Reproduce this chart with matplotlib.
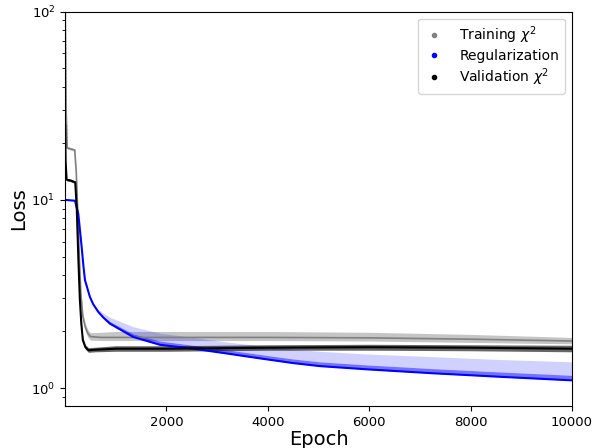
import matplotlib
matplotlib.use("Agg")
import matplotlib.pyplot as plt
from matplotlib.lines import Line2D

# values (log scale)
train_epoch = [1, 10, 20, 40, 100, 190, 220, 250, 280, 310, 350, 400, 450, 500,
               700, 1000, 2000, 4000, 6000, 8000, 10000]
train_loss = [110, 60, 30, 18.9, 18.7, 18.4, 14, 8.5, 5, 3.2, 2.4, 2.1, 1.95, 1.88,
              1.86, 1.86, 1.86, 1.86, 1.85, 1.82, 1.78]
train_lo = [110, 60, 30, 18.6, 18.4, 18.1, 13.6, 8.2, 4.8, 3.1, 2.3, 2.0, 1.86, 1.8,
            1.79, 1.79, 1.79, 1.79, 1.78, 1.75, 1.72]
train_hi = [110, 60, 30, 19.2, 19.0, 18.7, 14.4, 8.8, 5.2, 3.3, 2.5, 2.2, 2.04, 1.97,
            1.98, 2.0, 2.0, 2.0, 1.98, 1.93, 1.86]

reg_epoch = [1, 195, 260, 327, 360, 392, 490, 555, 655, 755, 885, 1345, 1870, 2525,
             3180, 3840, 4490, 5020, 5935, 7250, 8560, 10000]
reg_loss = [10, 9.9, 8.45, 5.6, 4.49, 3.75, 3.05, 2.79, 2.54, 2.37, 2.2, 1.87, 1.7,
            1.62, 1.53, 1.44, 1.36, 1.31, 1.26, 1.2, 1.15, 1.1]
reg_mid = [10, 9.9, 8.45, 5.6, 4.49, 3.75, 3.05, 2.8, 2.57, 2.41, 2.26, 1.94, 1.78,
           1.69, 1.6, 1.51, 1.43, 1.38, 1.33, 1.27, 1.22, 1.17]
reg_hi = [10, 9.9, 8.45, 5.6, 4.49, 3.75, 3.05, 2.82, 2.62, 2.5, 2.38, 2.12, 1.96,
          1.86, 1.76, 1.68, 1.61, 1.57, 1.52, 1.47, 1.42, 1.38]

val_epoch = [1, 10, 30, 100, 200, 230, 260, 290, 320, 350, 400, 460, 600, 1000,
             2000, 3000, 4000, 6000, 8000, 10000]
val_loss = [25, 16, 12.8, 12.7, 12.4, 9, 5, 3, 2.2, 1.8, 1.65, 1.59, 1.6, 1.62,
            1.62, 1.63, 1.64, 1.65, 1.64, 1.62]
val_lo = [25, 16, 12.6, 12.5, 12.2, 8.8, 4.9, 2.95, 2.15, 1.76, 1.61, 1.55, 1.56,
          1.57, 1.57, 1.58, 1.59, 1.59, 1.58, 1.56]
val_hi = [25, 16, 13.0, 12.9, 12.6, 9.2, 5.1, 3.05, 2.25, 1.84, 1.7, 1.64, 1.65,
          1.68, 1.68, 1.69, 1.7, 1.71, 1.7, 1.69]

fig = plt.figure(figsize=(6.09, 4.48), dpi=100)
ax = fig.add_axes([0.107, 0.094, 0.832, 0.880])

# training chi2 (grey)
ax.fill_between(train_epoch, train_lo, train_hi, color='gray', alpha=0.45, lw=0)
ax.plot(train_epoch, train_loss, color='gray', lw=1.2)
ax.plot(train_epoch[:4], train_loss[:4], color='gray', lw=1, ls=':')

# regularization (blue): sparse scatter, dense core, lower edge
ax.fill_between(reg_epoch, reg_mid, reg_hi, color='blue', alpha=0.18, lw=0)
ax.fill_between(reg_epoch, reg_loss, reg_mid, color='blue', alpha=0.55, lw=0)
ax.plot(reg_epoch, reg_loss, color='blue', lw=1.5)

# validation chi2 (black)
ax.fill_between(val_epoch, val_lo, val_hi, color='black', alpha=0.6, lw=0)
ax.plot(val_epoch, val_loss, color='black', lw=1.5)

ax.set_yscale('log')
ax.set_ylim(0.805, 100)
ax.set_xlim(1, 10000)
ax.set_xticks([2000, 4000, 6000, 8000, 10000])
ax.tick_params(labelsize=9.5)
ax.set_xlabel('Epoch', fontsize=14, labelpad=1)
ax.set_ylabel('Loss', fontsize=14, labelpad=2)

handles = [Line2D([], [], marker='o', ls='none', color='gray', markersize=3),
           Line2D([], [], marker='o', ls='none', color='blue', markersize=3),
           Line2D([], [], marker='o', ls='none', color='black', markersize=3)]
ax.legend(handles, ['Training $\\chi^2$', 'Regularization', 'Validation $\\chi^2$'],
          loc='upper right', fontsize=10, borderpad=0.4, labelspacing=0.25,
          handlelength=1.6, handletextpad=1.0)

fig.savefig('out.png', dpi=100)
